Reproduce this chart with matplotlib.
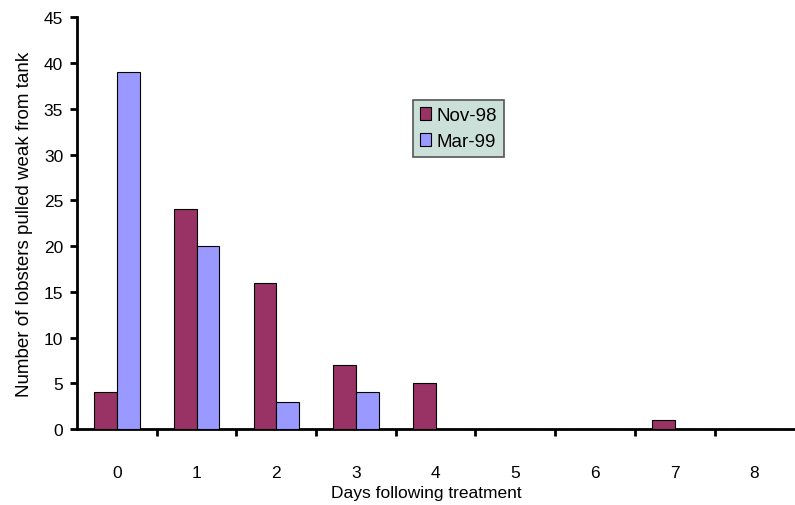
import matplotlib
matplotlib.use("Agg")
import matplotlib.pyplot as plt
import numpy as np

plt.rcParams['font.family'] = ['Liberation Sans', 'DejaVu Sans']

days = [0, 1, 2, 3, 4, 5, 6, 7, 8]
nov98 = [4, 24, 16, 7, 5, 0, 0, 1, 0]
mar99 = [39, 20, 3, 4, 0, 0, 0, 0, 0]
yticks = [0, 5, 10, 15, 20, 25, 30, 35, 40, 45]

fig = plt.figure(figsize=(7.95, 5.06), dpi=100)
ax = fig.add_axes([0.097, 0.150, 0.902, 0.814])

x = np.arange(len(days))
w = 0.285
ax.bar(x - w / 2, nov98, w, color='#993366', edgecolor='black', linewidth=0.8, label='Nov-98', zorder=3)
ax.bar(x + w / 2, mar99, w, color='#9999FF', edgecolor='black', linewidth=0.8, label='Mar-99', zorder=3)

ax.set_xlim(-0.5, len(days) - 0.5)
ax.set_ylim(0, 45)
ax.set_yticks(yticks)
ax.set_yticklabels([str(v) for v in yticks], fontsize=12.5)
ax.set_xticks(x)
ax.set_xticklabels([str(d) for d in days], fontsize=12.5)
ax.set_xticks(np.arange(0.5, len(days) - 0.5, 1), minor=True)
ax.tick_params(axis='x', which='major', length=0, pad=26)
ax.tick_params(axis='x', which='minor', length=5, width=2, direction='out')
ax.tick_params(axis='y', which='major', length=5, width=2, direction='out', pad=5)

for s in ['top', 'right']:
    ax.spines[s].set_visible(False)
ax.spines['left'].set_linewidth(2)
ax.spines['bottom'].set_linewidth(2)

ax.set_ylabel('Number of lobsters pulled weak from tank', fontsize=13.5, labelpad=8)
fig.text(0.536, 0.024, 'Days following treatment', fontsize=12.5, ha='center', va='center')

leg = ax.legend(loc='upper left', bbox_to_anchor=(0.468, 0.80), fontsize=13.5,
                frameon=True, fancybox=False, handlelength=0.55, handleheight=0.7,
                handletextpad=0.3, borderpad=0.4, labelspacing=0.45, borderaxespad=0)
leg.get_frame().set_facecolor('#CCE0DA')
leg.get_frame().set_edgecolor('#555555')
leg.get_frame().set_linewidth(1.2)
leg.get_frame().set_alpha(1)

fig.savefig('out.png', dpi=100)
